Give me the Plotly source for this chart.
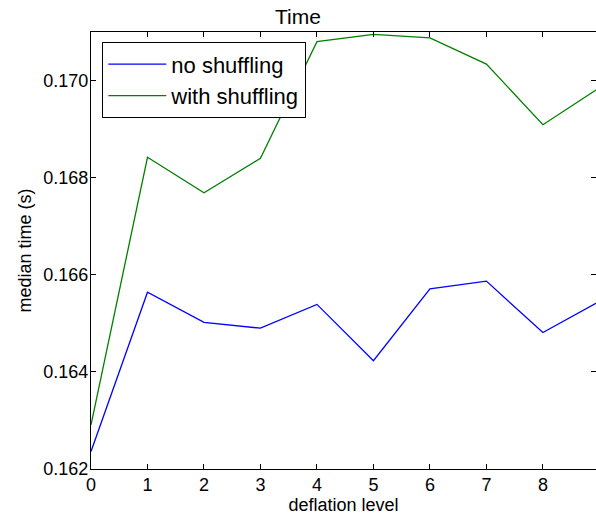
import plotly.graph_objects as go

deflation_level = [0, 1, 2, 3, 4, 5, 6, 7, 8, 9]
no_shuffling = [0.16236, 0.16564, 0.16502, 0.16490, 0.16539, 0.16423, 0.16571, 0.16587, 0.16481, 0.16545]
with_shuffling = [0.16291, 0.16842, 0.16769, 0.16840, 0.17080, 0.17095, 0.17088, 0.17034, 0.16909, 0.16985]
x_ticks = [0, 1, 2, 3, 4, 5, 6, 7, 8]
y_ticks = [0.162, 0.164, 0.166, 0.168, 0.170]
y_tick_text = ["0.162", "0.164", "0.166", "0.168", "0.170"]

FONT = "Liberation Sans, Arial, sans-serif"

fig = go.Figure()
fig.add_trace(go.Scatter(x=deflation_level, y=no_shuffling, mode="lines", name="no shuffling",
                         line=dict(color="#0000ff", width=1.3)))
fig.add_trace(go.Scatter(x=deflation_level, y=with_shuffling, mode="lines", name="with shuffling",
                         line=dict(color="#008000", width=1.3)))
# invisible trace to carry right-side ticks
fig.add_trace(go.Scatter(x=[0], y=[0.162], yaxis="y2", mode="lines", showlegend=False,
                         hoverinfo="skip", line=dict(width=0)))

axis_common = dict(showgrid=False, zeroline=False, ticks="inside", ticklen=5, tickwidth=1,
                   tickcolor="black", linecolor="black", linewidth=1.3, automargin=False,
                   tickfont=dict(family=FONT, size=18, color="black"))

fig.update_layout(
    width=596, height=516,
    margin=dict(l=91, r=0, t=32, b=47, autoexpand=False),
    paper_bgcolor="white", plot_bgcolor="white",
    font=dict(family=FONT, color="black"),
    title=dict(text="Time", x=0.5, xanchor="center", xref="container", yref="container",
               y=1 - 17 / 516, yanchor="middle", automargin=False,
               font=dict(family=FONT, size=21, color="black")),
    xaxis=dict(range=[0, 8.94], tickvals=x_ticks, showline=True, mirror="ticks",
               ticklabelstandoff=-1,
               title=dict(text="deflation level", font=dict(family=FONT, size=18), standoff=0),
               **axis_common),
    yaxis=dict(range=[0.162, 0.171], tickvals=y_ticks, ticktext=y_tick_text, showline=True,
               ticklabelstandoff=-2,
               title=dict(text="median time (s)", font=dict(family=FONT, size=18), standoff=6),
               **axis_common),
    yaxis2=dict(range=[0.162, 0.171], overlaying="y", side="right", tickvals=y_ticks,
                showticklabels=False, showgrid=False, zeroline=False, ticks="inside",
                ticklen=5, tickwidth=1, tickcolor="black", showline=False, automargin=False),
    legend=dict(x=(102 - 91) / 505, y=(469 - 42) / 437, xanchor="left", yanchor="top",
                bgcolor="white", bordercolor="black", borderwidth=1.3,
                font=dict(family=FONT, size=22, color="black"), itemwidth=58),
    showlegend=True,
)

fig.write_html("out.html", config={"displayModeBar": False},
               post_script="document.body.style.margin='0';")
